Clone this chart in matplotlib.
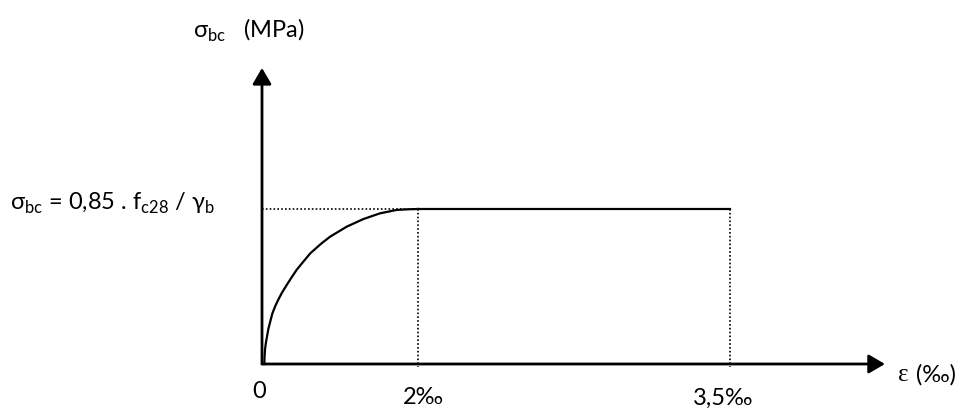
import numpy as np
import matplotlib
matplotlib.use("Agg")
import matplotlib.pyplot as plt

plt.rcParams['font.family'] = ['Lato', 'DejaVu Sans']
plt.rcParams['mathtext.fontset'] = 'custom'
plt.rcParams['mathtext.rm'] = 'Lato'

# strain (per mille) and normalised stress
eps_curve = [0.03, 0.033, 0.04, 0.051, 0.081, 0.132, 0.171, 0.209, 0.256,
             0.317, 0.385, 0.445, 0.513, 0.619, 0.76, 0.872, 1.086, 1.299,
             1.513, 1.727, 1.87, 2.0]
sig_curve = [0.0, 0.05, 0.1, 0.14, 0.225, 0.325, 0.375, 0.415, 0.46,
             0.51, 0.563, 0.608, 0.650, 0.714, 0.777, 0.821, 0.886, 0.935,
             0.972, 0.994, 0.998, 1.0]
eps_peak = 2.0
eps_ult = 3.5
sig_bc = 1.0
tick_labels = ['0', '2‰', '3,5‰']

# the drawing is not to scale: 0-2 and 2-3.5 get different widths
kx = [0.0, 2.0, 3.5]
px = [0.0, 156.0, 468.0]


def fwd(x):
    x = np.asarray(x, dtype=float)
    return np.where(x < 0, x * 78.0,
                    np.where(x > 3.5, 468.0 + (x - 3.5) * 208.0, np.interp(x, kx, px)))


def inv(p):
    p = np.asarray(p, dtype=float)
    return np.where(p < 0, p / 78.0,
                    np.where(p > 468.0, 3.5 + (p - 468.0) / 208.0, np.interp(p, px, kx)))


fig = plt.figure(figsize=(9.67, 4.08), dpi=100)
ax = fig.add_axes([0, 0, 1, 1])
ax.set_xscale('function', functions=(fwd, inv))
ax.set_xlim(-262 / 78.0, 3.5 + (967 - 262 - 468) / 208.0)
ax.set_ylim(-44 / 155.0, 364 / 155.0)
ax.axis('off')

# axes with arrows
arrow = dict(arrowstyle='-|>,head_length=0.65,head_width=0.38',
             mutation_scale=15, lw=2, color='black', shrinkA=0, shrinkB=0)
ax.annotate('', xy=(4.245, 0), xytext=(0, 0), arrowprops=arrow)
ax.annotate('', xy=(0, 1.91), xytext=(0, 0), arrowprops=arrow)

# parabola + rectangle
ax.plot(eps_curve, sig_curve, color='black', lw=1.6, solid_joinstyle='round')
ax.plot([eps_peak, eps_ult], [sig_bc, sig_bc], color='black', lw=1.6)

# dotted guides
dot = dict(color='black', lw=1.2, linestyle=(0, (1, 1.3)))
ax.plot([0, eps_peak], [sig_bc, sig_bc], **dot)
ax.plot([eps_peak, eps_peak], [sig_bc, -0.02], **dot)
ax.plot([eps_ult, eps_ult], [sig_bc, -0.02], **dot)

fs = 17
ax.text(-0.04, -0.18, tick_labels[0], fontsize=fs, ha='center', va='center')
ax.text(2.025, -0.219, tick_labels[1], fontsize=fs, ha='center', va='center')
ax.text(3.468, -0.219, tick_labels[2], fontsize=fs, ha='center', va='center')
ax.text(4.31, -0.071, 'ε', fontsize=fs + 1, ha='left', va='center',
        family=['Liberation Serif', 'DejaVu Serif'])
ax.text(4.395, -0.071, '(‰)', fontsize=fs, ha='left', va='center')

ax.text(-0.885, 2.155, r'σ$_{\mathrm{bc}}$   (MPa)', fontsize=fs, ha='left', va='center')
ax.text(-3.23, 1.038, r'σ$_{\mathrm{bc}}$ = 0,85 . f$_{\mathrm{c28}}$ / γ$_{\mathrm{b}}$',
        fontsize=fs, ha='left', va='center')

fig.savefig('out.png', dpi=100)
